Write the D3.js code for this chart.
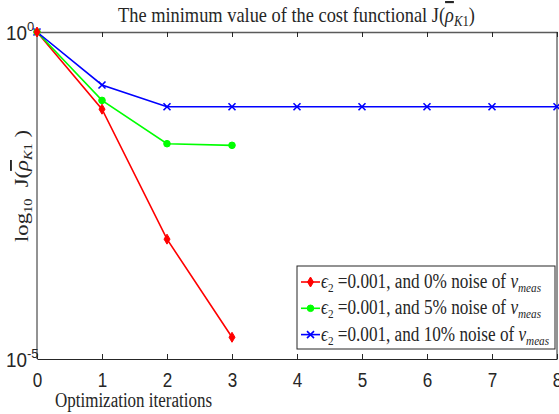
<!DOCTYPE html>
<html><head><meta charset="utf-8">
<script src="https://cdn.jsdelivr.net/npm/d3@7"></script>
<style>body{margin:0;background:#fff}svg{display:block}</style>
</head><body>
<svg id="c" width="559" height="414"></svg>
<script>
const iterations = [0,1,2,3,4,5,6,7,8];
const red = [1, 0.066, 6.8e-4, 2.15e-5];
const green = [1, 0.090, 0.0196, 0.0185];
const blue = [1, 0.155, 0.072, 0.072, 0.072, 0.072, 0.072, 0.072, 0.072];
const seriesNames = ["0%", "5%", "10%"];
const xTicks = [0,1,2,3,4,5,6,7,8];
const yTickExps = ["0", "-5"];

const svg = d3.select("#c");
const L = 37, R = 557, T = 32, B = 359;
const x = d3.scaleLinear().domain([0,8]).range([L,R]);
const y = d3.scaleLog().domain([1e-5,1]).range([B,T]);
const SERIF = "Liberation Serif, Times New Roman, serif";
const SANS = "Liberation Sans, Arial, sans-serif";

function squeeze(textSel, width){
  textSel.attr("textLength", width).attr("lengthAdjust","spacingAndGlyphs");
}

// axes
const gx = svg.append("g").attr("transform",`translate(0,${B})`)
  .call(d3.axisBottom(x).tickValues(xTicks).tickSizeInner(-5).tickSizeOuter(0).tickPadding(12).tickFormat(d3.format("d")));
gx.select(".domain").attr("stroke","#262626");
gx.selectAll(".tick line").attr("stroke","#262626");
gx.selectAll(".tick text").attr("font-family",SANS).attr("font-size",20).attr("fill","#262626")
  .attr("dy",null).attr("y",28).attr("textLength",9.5).attr("lengthAdjust","spacingAndGlyphs");
const gt = svg.append("g").attr("transform",`translate(0,${T})`)
  .call(d3.axisTop(x).tickValues(xTicks).tickSizeInner(-5).tickSizeOuter(0).tickFormat(""));
gt.select(".domain").attr("stroke","#5a5a5a").attr("stroke-width",1.5);
gt.selectAll(".tick line").attr("stroke","#262626");
svg.append("line").attr("x1",L).attr("x2",L).attr("y1",T).attr("y2",B).attr("stroke","#262626");
svg.append("line").attr("x1",R).attr("x2",R).attr("y1",T).attr("y2",B).attr("stroke","#262626");

// y tick labels
yTickExps.forEach(e=>{
  const yy = y(Math.pow(10,+e));
  svg.append("text").attr("x",6).attr("y",yy+8)
    .attr("font-family",SANS).attr("font-size",20).attr("fill","#262626").text("10")
    .attr("textLength",21).attr("lengthAdjust","spacingAndGlyphs");
  svg.append("text").attr("x",27).attr("y",yy-1).attr("text-anchor","start")
    .attr("font-family",SANS).attr("font-size",13).attr("fill","#262626").text(e);
});

// lines
const line = d3.line().x((d,i)=>x(iterations[i])).y(d=>y(d));
const series = [
  {data:red, color:"#ff0000", marker:"diamond"},
  {data:green, color:"#00ff00", marker:"circle"},
  {data:blue, color:"#0000ff", marker:"x"}
];
const plot = svg.append("g");
function drawMarker(g, type, cx, cy, color){
  if(type==="diamond"){
    g.append("path").attr("d",`M${cx},${cy-5}L${cx+3},${cy}L${cx},${cy+5}L${cx-3},${cy}Z`).attr("fill",color).attr("stroke",color);
  } else if(type==="circle"){
    g.append("circle").attr("cx",cx).attr("cy",cy).attr("r",3.3).attr("fill",color).attr("stroke",color);
  } else {
    g.append("path").attr("d",`M${cx-3.5},${cy-3.5}L${cx+3.5},${cy+3.5}M${cx-3.5},${cy+3.5}L${cx+3.5},${cy-3.5}`).attr("stroke",color).attr("stroke-width",1.6);
  }
}
series.forEach(s=>{
  plot.append("path").datum(s.data).attr("d",line).attr("fill","none").attr("stroke",s.color).attr("stroke-width",1.6);
});
[...series].reverse().forEach(s=>{
  s.data.forEach((d,i)=>drawMarker(plot,s.marker,x(iterations[i]),y(d),s.color));
});

// legend
const lg = svg.append("g");
lg.append("rect").attr("x",297).attr("y",266).attr("width",258).attr("height",83).attr("fill","#fff").attr("stroke","#262626");
const legendWidths = [220, 220, 228];
series.forEach((s,i)=>{
  const cy = 282 + i*26.3;
  lg.append("line").attr("x1",301).attr("x2",320).attr("y1",cy).attr("y2",cy).attr("stroke",s.color).attr("stroke-width",1.6);
  drawMarker(lg,s.marker,310.5,cy,s.color);
  const t = lg.append("text").attr("x",321).attr("y",cy+6).attr("font-family",SERIF).attr("font-size",20).attr("fill","#262626");
  t.append("tspan").attr("font-style","italic").text("ϵ");
  t.append("tspan").attr("font-size",13).attr("dy",4).text("2");
  t.append("tspan").attr("dy",-4).text(" =0.001, and " + seriesNames[i] + " noise of ");
  t.append("tspan").attr("font-style","italic").text("v");
  t.append("tspan").attr("font-style","italic").attr("font-size",13).attr("dy",4).text("meas");
  squeeze(t, legendWidths[i]);
});

// title
const title = svg.append("text").attr("x",118).attr("y",22)
  .attr("font-family",SERIF).attr("font-size",21.5).attr("fill","#262626");
title.append("tspan").text("The minimum value of the cost functional J(");
title.append("tspan").attr("font-style","italic").attr("text-decoration","overline").text("ρ");
title.append("tspan").attr("font-style","italic").attr("font-size",15).attr("dy",4).text("K");
title.append("tspan").attr("font-size",15).text("1");
title.append("tspan").attr("dy",-4).text(")");
squeeze(title, 357);

// x label
const xl = svg.append("text").attr("x",55).attr("y",407)
  .attr("font-family",SERIF).attr("font-size",20).attr("fill","#262626")
  .text("Optimization iterations");
squeeze(xl, 157);

// y label
const yl = svg.append("text").attr("transform","translate(28,242) rotate(-90)")
  .attr("font-family",SERIF).attr("font-size",19).attr("fill","#262626");
yl.append("tspan").text("log");
yl.append("tspan").attr("font-size",12).attr("dy",4).text("10");
yl.append("tspan").attr("dy",-4).text(" \u00a0J(");
yl.append("tspan").attr("font-style","italic").attr("text-decoration","overline").text("ρ");
yl.append("tspan").attr("font-style","italic").attr("font-size",12).attr("dy",4).text("K");
yl.append("tspan").attr("font-size",12).text("1");
yl.append("tspan").attr("dy",-4).text("\u00a0)");
squeeze(yl, 112);
</script>
</body></html>
